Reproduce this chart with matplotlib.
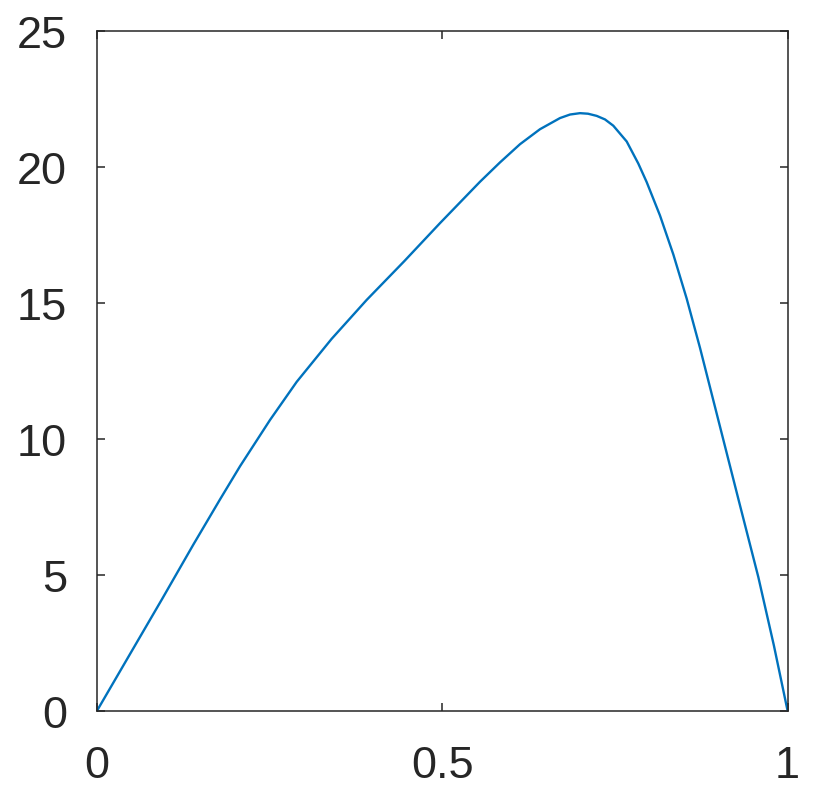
import matplotlib.pyplot as plt

# values
x = [0.0, 0.05, 0.0941, 0.1398, 0.1784, 0.2074, 0.2508, 0.2894, 0.34,
     0.3907, 0.445, 0.4968, 0.5547, 0.5836, 0.6126, 0.6415, 0.6705, 0.685,
     0.6994, 0.711, 0.7236, 0.7356, 0.7476, 0.767, 0.7838, 0.7959, 0.8152,
     0.8345, 0.8538, 0.8731, 0.8924, 0.9117, 0.93, 0.9575, 0.98, 1.0]
y = [0.0, 2.18, 4.1, 6.12, 7.78, 9.0, 10.7, 12.1, 13.68,
     15.11, 16.53, 17.93, 19.45, 20.16, 20.83, 21.38, 21.79, 21.92,
     21.97, 21.95, 21.87, 21.74, 21.51, 20.93, 20.12, 19.44, 18.21,
     16.78, 15.16, 13.35, 11.42, 9.49, 7.66, 4.93, 2.42, 0.0]
xticks = [0, 0.5, 1]
xticklabels = ['0', '0.5', '1']
yticks = [0, 5, 10, 15, 20, 25]

plt.rcParams['font.family'] = ['Liberation Sans', 'DejaVu Sans']

fig = plt.figure(figsize=(8.33, 8.04), dpi=100)
ax = fig.add_axes([0.1161, 0.1141, 0.8295, 0.8465])
ax.plot(x, y, color='#0072BD', linewidth=1.7, solid_joinstyle='round')

ax.set_xlim(0, 1)
ax.set_ylim(0, 25)
ax.set_xticks(xticks)
ax.set_xticklabels(xticklabels)
ax.set_yticks(yticks)

for s in ax.spines.values():
    s.set_color('#262626')
    s.set_linewidth(1.1)
ax.tick_params(direction='in', length=6, width=1.1, color='#262626',
               labelsize=32.5, labelcolor='#262626',
               top=True, right=True)
ax.tick_params(axis='x', pad=24)
ax.tick_params(axis='y', pad=21.5)

fig.savefig('out.png', dpi=100)
